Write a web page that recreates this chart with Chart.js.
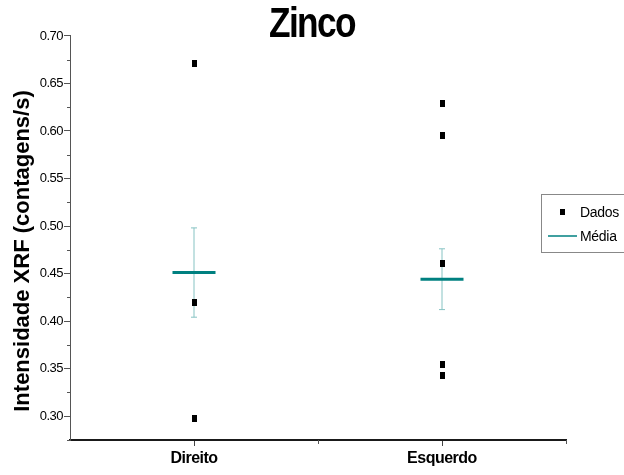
<!DOCTYPE html>
<html>
<head>
<meta charset="utf-8">
<script src="https://cdn.jsdelivr.net/npm/chart.js@4"></script>
<style>
  html, body { margin: 0; padding: 0; background: #fff; overflow: hidden; }
  #chart { display: block; }
</style>
</head>
<body>
<canvas id="chart" width="624" height="475"></canvas>
<script>
// Chart data
const categories = ['Direito', 'Esquerdo'];
const direitoValues = [0.671, 0.420, 0.2975];
const esquerdoValues = [0.629, 0.595, 0.461, 0.354, 0.343];
const meanValues = [0.451, 0.444];
const errorLow = [0.404, 0.412];
const errorHigh = [0.498, 0.476];
const yMinorTicks = [0.275, 0.325, 0.375, 0.425, 0.475, 0.525, 0.575, 0.625, 0.675];
const xMinorTicks = [1.5, 2.5];

const titleText = 'Zinco';
const yTitleText = 'Intensidade XRF (contagens/s)';
const legendLabels = ['Dados', 'Média'];

const TEAL = '#008080';
const TEAL_LIGHT = '#86c3c3';

// Small black rectangle used as the data marker
const marker = document.createElement('canvas');
marker.width = 5;
marker.height = 7;
const mctx = marker.getContext('2d');
mctx.fillStyle = '#000';
mctx.fillRect(0, 0, 5, 7);

// Build scatter points for each category (x = category position)
const dadosPoints = [];
direitoValues.forEach(v => dadosPoints.push({x: 1, y: v}));
esquerdoValues.forEach(v => dadosPoints.push({x: 2, y: v}));

const meanPoints = meanValues.map((v, i) => ({x: i + 1, y: v}));

const errorPoints = [];
errorLow.forEach((lo, i) => {
    if (i > 0) errorPoints.push({x: i + 0.5, y: null});
    errorPoints.push({x: i + 1, y: lo});
    errorPoints.push({x: i + 1, y: errorHigh[i]});
});

// Extra drawing: letter spacing, minor ticks, titles, legend
const decorations = {
    id: 'decorations',
    beforeDraw(chart) {
        chart.ctx.letterSpacing = '-0.5px';
    },
    afterDatasetsDraw(chart) {
        chart.ctx.letterSpacing = '-1px';
    },
    afterDraw(chart) {
        const ctx = chart.ctx;
        const xs = chart.scales.x;
        const ys = chart.scales.y;
        ctx.save();

        // minor ticks
        ctx.strokeStyle = '#555';
        ctx.lineWidth = 1;
        ctx.beginPath();
        yMinorTicks.forEach(v => {
            const py = Math.round(ys.getPixelForValue(v)) + 0.5;
            ctx.moveTo(ys.right - 3, py);
            ctx.lineTo(ys.right, py);
        });
        xMinorTicks.forEach(v => {
            const px = Math.round(xs.getPixelForValue(v)) + 0.5;
            ctx.moveTo(px, xs.top);
            ctx.lineTo(px, xs.top + 4);
        });
        ctx.stroke();

        // main title (condensed like the original)
        ctx.fillStyle = '#000';
        ctx.save();
        ctx.translate(269, 37);
        ctx.scale(0.82, 1);
        ctx.letterSpacing = '-2px';
        ctx.font = 'bold 43px "Liberation Sans", Arial, sans-serif';
        ctx.textAlign = 'left';
        ctx.textBaseline = 'alphabetic';
        ctx.fillText(titleText, 0, 0);
        ctx.restore();

        // y axis title
        ctx.letterSpacing = '0px';
        ctx.font = 'bold 22px "Liberation Sans", Arial, sans-serif';
        ctx.save();
        ctx.translate(29, 251);
        ctx.rotate(-Math.PI / 2);
        ctx.textAlign = 'center';
        ctx.fillText(yTitleText, 0, 0);
        ctx.restore();

        // legend
        ctx.strokeStyle = '#888';
        ctx.lineWidth = 1;
        ctx.strokeRect(541.5, 194.5, 100, 58);
        ctx.drawImage(marker, 560, 209, 5, 6);
        ctx.strokeStyle = TEAL;
        ctx.lineWidth = 1.5;
        ctx.beginPath();
        ctx.moveTo(548, 236);
        ctx.lineTo(577, 236);
        ctx.stroke();
        ctx.font = '14px "Liberation Sans", Arial, sans-serif';
        ctx.letterSpacing = '-0.3px';
        ctx.textAlign = 'left';
        ctx.textBaseline = 'middle';
        ctx.fillText(legendLabels[0], 580, 213);
        ctx.fillText(legendLabels[1], 580, 237);

        ctx.restore();
    }
};

const chart = new Chart(document.getElementById('chart').getContext('2d'), {
    type: 'scatter',
    data: {
        datasets: [
            {
                label: legendLabels[0],
                data: dadosPoints,
                pointStyle: marker,
                pointRadius: 4,
                pointHoverRadius: 4
            },
            {
                label: legendLabels[1],
                data: meanPoints,
                pointStyle: 'line',
                pointRadius: 21.5,
                pointHoverRadius: 21.5,
                borderColor: TEAL,
                backgroundColor: TEAL,
                pointBorderWidth: 3,
                pointHoverBorderWidth: 3
            },
            {
                label: 'Erro',
                data: errorPoints,
                showLine: true,
                spanGaps: false,
                borderColor: TEAL_LIGHT,
                backgroundColor: TEAL_LIGHT,
                borderWidth: 1,
                pointStyle: 'line',
                pointRadius: 3,
                pointHoverRadius: 3,
                pointBorderWidth: 1
            }
        ]
    },
    options: {
        responsive: false,
        maintainAspectRatio: false,
        animation: false,
        events: [],
        layout: {
            padding: {top: 35, right: 58, bottom: 0, left: 0}
        },
        plugins: {
            legend: {display: false},
            title: {display: false},
            tooltip: {enabled: false}
        },
        scales: {
            x: {
                type: 'linear',
                position: 'bottom',
                z: 1,
                min: 0.5,
                max: 2.5,
                afterFit(scale) { scale.height = 35; },
                border: {display: true, color: '#1a1a1a', width: 2},
                grid: {
                    drawOnChartArea: false,
                    drawTicks: true,
                    tickLength: 6,
                    tickColor: c => (Number.isInteger(c.tick.value) ? '#444' : 'rgba(0,0,0,0)')
                },
                ticks: {
                    stepSize: 0.5,
                    includeBounds: false,
                    autoSkip: false,
                    maxRotation: 0,
                    padding: 3,
                    color: '#000',
                    font: {family: '"Liberation Sans", Arial, sans-serif', size: 16, weight: 'bold'},
                    callback: v => (Number.isInteger(v) ? (categories[v - 1] || '') : '')
                }
            },
            y: {
                type: 'linear',
                position: 'left',
                min: 0.27474,
                max: 0.70105,
                afterFit(scale) { scale.width = 70; },
                border: {display: true, color: '#555', width: 1},
                grid: {
                    drawOnChartArea: false,
                    drawTicks: true,
                    tickLength: 6,
                    tickColor: '#555'
                },
                ticks: {
                    stepSize: 0.05,
                    includeBounds: false,
                    autoSkip: false,
                    padding: 1,
                    color: '#000',
                    font: {family: '"Liberation Sans", Arial, sans-serif', size: 13},
                    callback: v => v.toFixed(2)
                }
            }
        }
    },
    plugins: [decorations]
});
</script>
</body>
</html>
